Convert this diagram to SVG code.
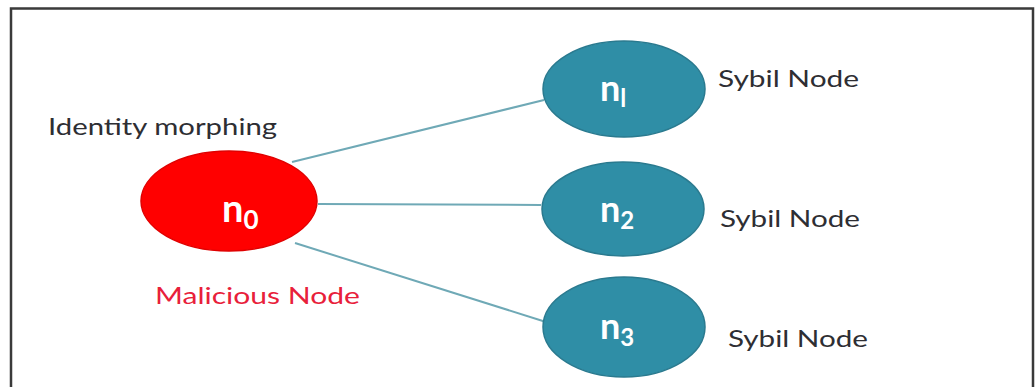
<svg xmlns="http://www.w3.org/2000/svg" width="1036" height="387" viewBox="0 0 1036 387">
  <style>
    .frame { fill: none; stroke: #3a3a3a; stroke-width: 2.5; }
    .edge { stroke: #6fa9b6; stroke-width: 2; fill: none; }
    .sybil { fill: #2f8ea6; stroke: #2a7a8f; stroke-width: 1.5; }
    .mal { fill: #ff0000; stroke: #e00000; stroke-width: 1.5; }
    .nlabel { font-family: Lato, "Open Sans", sans-serif; font-weight: bold; fill: #ffffff; }
    .caption { font-family: Lato, "Open Sans", sans-serif; font-size: 24px; fill: #2e2e33; }
    .red { fill: #e8203a; }
  </style>
  <rect width="1036" height="387" fill="#ffffff"/>
  <path class="frame" d="M11 390 V8.5 H1033 V390"/>

  <g id="connectors">
    <line class="edge" x1="292" y1="162" x2="544" y2="100"/>
    <line class="edge" x1="318" y1="204" x2="541" y2="205"/>
    <line class="edge" x1="295" y1="243" x2="546" y2="322"/>
  </g>

  <g id="n0">
    <ellipse class="mal" cx="229" cy="201" rx="88" ry="50"/>
    <text class="nlabel" x="222" y="222" font-size="38">n<tspan font-size="26" dy="7">0</tspan></text>
  </g>
  <g id="n1">
    <ellipse class="sybil" cx="624" cy="89" rx="81" ry="48"/>
    <text class="nlabel" x="600" y="101" font-size="36">n<tspan font-size="24" dy="6">l</tspan></text>
  </g>
  <g id="n2">
    <ellipse class="sybil" cx="623" cy="209" rx="81" ry="47"/>
    <text class="nlabel" x="600" y="222" font-size="36">n<tspan font-size="24" dy="7">2</tspan></text>
  </g>
  <g id="n3">
    <ellipse class="sybil" cx="624" cy="327" rx="81" ry="50"/>
    <text class="nlabel" x="600" y="339" font-size="36">n<tspan font-size="24" dy="7">3</tspan></text>
  </g>

  <g id="labels">
    <text class="caption" x="48" y="135" textLength="229" lengthAdjust="spacingAndGlyphs">Identity morphing</text>
    <text class="caption red" x="155" y="304" textLength="205" lengthAdjust="spacingAndGlyphs">Malicious Node</text>
    <text class="caption" x="718" y="87" textLength="141" lengthAdjust="spacingAndGlyphs">Sybil Node</text>
    <text class="caption" x="720" y="227" textLength="140" lengthAdjust="spacingAndGlyphs">Sybil Node</text>
    <text class="caption" x="728" y="347" textLength="140" lengthAdjust="spacingAndGlyphs">Sybil Node</text>
  </g>
</svg>
